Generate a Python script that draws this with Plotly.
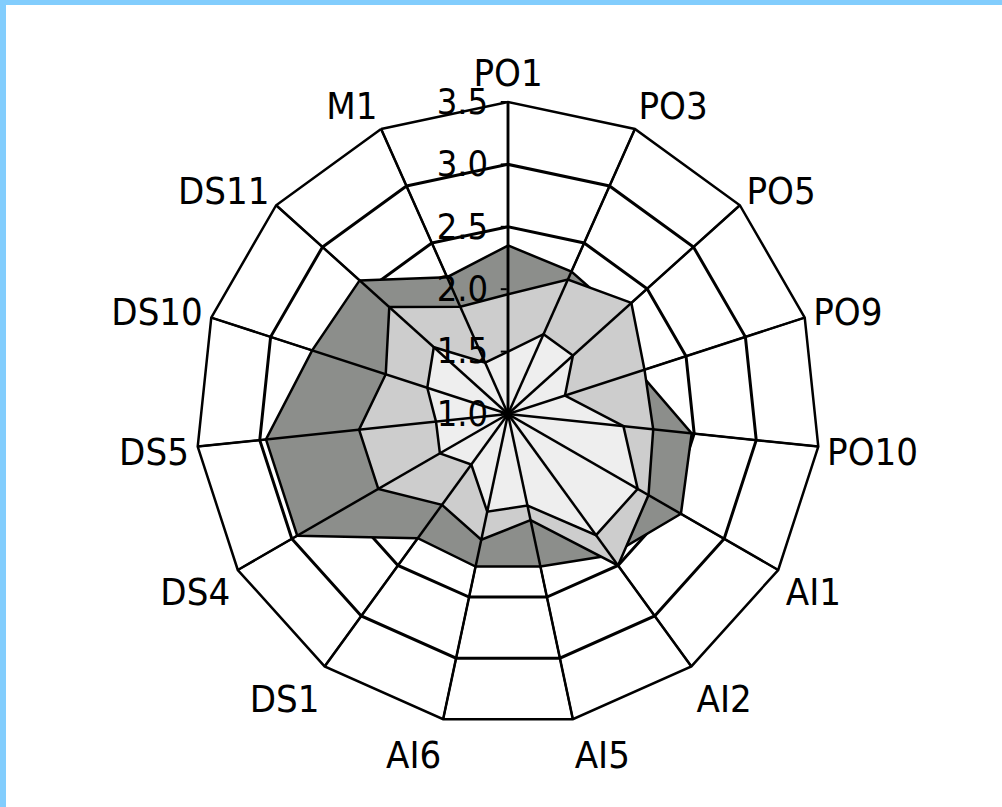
import plotly.graph_objects as go

categories = ["PO1", "PO3", "PO5", "PO9", "PO10", "AI1", "AI2", "AI5",
              "AI6", "DS1", "DS4", "DS5", "DS10", "DS11", "M1"]

series_dark = [2.35, 2.25, 2.20, 2.10, 2.48, 2.60, 2.40, 2.25,
               2.25, 2.23, 2.95, 2.95, 2.65, 2.60, 2.20]
series_light = [1.96, 2.18, 2.33, 2.15, 2.17, 2.30, 2.50, 1.87,
                2.03, 1.90, 2.20, 2.20, 2.03, 2.28, 1.94]
series_pale = [1.50, 1.70, 1.70, 1.48, 1.93, 2.20, 2.20, 1.75,
               1.80, 1.50, 1.63, 1.58, 1.68, 1.80, 1.45]

tick_vals = [1.0, 1.5, 2.0, 2.5, 3.0, 3.5]
tick_text = ["1.0", "1.5", "2.0", "2.5", "3.0", "3.5"]

r_min, r_max = tick_vals[0], tick_vals[-1]

FONT = ("Noto Sans Condensed, DejaVu Sans Condensed, Liberation Sans Narrow, "
        "Arial Narrow, Liberation Sans, Arial, sans-serif")

fig = go.Figure()

for vals, color in [(series_dark, "#8c8e8b"),
                    (series_light, "#cdcdcd"),
                    (series_pale, "#eeeeee")]:
    fig.add_trace(go.Scatterpolar(
        r=vals + vals[:1],
        theta=categories + categories[:1],
        mode="lines",
        fill="toself",
        fillcolor=color,
        line=dict(color="black", width=2.5),
        hoverinfo="skip",
        showlegend=False,
    ))

# spokes drawn over the fills (category axis lines)
spoke_r, spoke_t = [], []
for c in categories:
    spoke_r += [r_min, r_max, None]
    spoke_t += [c, c, None]
fig.add_trace(go.Scatterpolar(
    r=spoke_r, theta=spoke_t, mode="lines",
    line=dict(color="black", width=2.5),
    connectgaps=False, hoverinfo="skip", showlegend=False,
))

W, H = 1002, 807
cx, cy, rad = 508, 414, 312

fig.update_layout(
    width=W, height=H,
    margin=dict(l=0, r=0, t=0, b=0),
    paper_bgcolor="white",
    plot_bgcolor="white",
    font=dict(family=FONT, size=38, color="black"),
    polar=dict(
        domain=dict(x=[(cx - rad) / W, (cx + rad) / W],
                    y=[(H - cy - rad) / H, (H - cy + rad) / H]),
        bgcolor="white",
        gridshape="linear",
        angularaxis=dict(
            type="category",
            categoryarray=categories,
            direction="clockwise",
            rotation=90,
            showline=True, linecolor="black", linewidth=2.5,
            showgrid=True, gridcolor="black", gridwidth=2,
            ticks="",
            tickfont=dict(family=FONT, size=38, color="black"),
            layer="above traces",
        ),
        radialaxis=dict(
            range=[r_min, r_max],
            tickvals=tick_vals,
            ticktext=tick_text,
            angle=90,
            side="counterclockwise",
            tickangle=90,
            showline=True, linecolor="black", linewidth=2.5,
            showgrid=True, gridcolor="black", gridwidth=2.5,
            ticks="outside", ticklen=6, tickcolor="black", tickwidth=2,
            tickfont=dict(family=FONT, size=36, color="black"),
            layer="above traces",
        ),
    ),
    shapes=[
        dict(type="rect", xref="paper", yref="paper", x0=0, x1=1, y0=1 - 5 / H, y1=1,
             fillcolor="#82cdfd", line=dict(width=0), layer="above"),
        dict(type="rect", xref="paper", yref="paper", x0=0, x1=6 / W, y0=0, y1=1,
             fillcolor="#82cdfd", line=dict(width=0), layer="above"),
    ],
)

fig.write_html("out.html", config={"displayModeBar": False},
               post_script="document.body.style.margin='0';")
